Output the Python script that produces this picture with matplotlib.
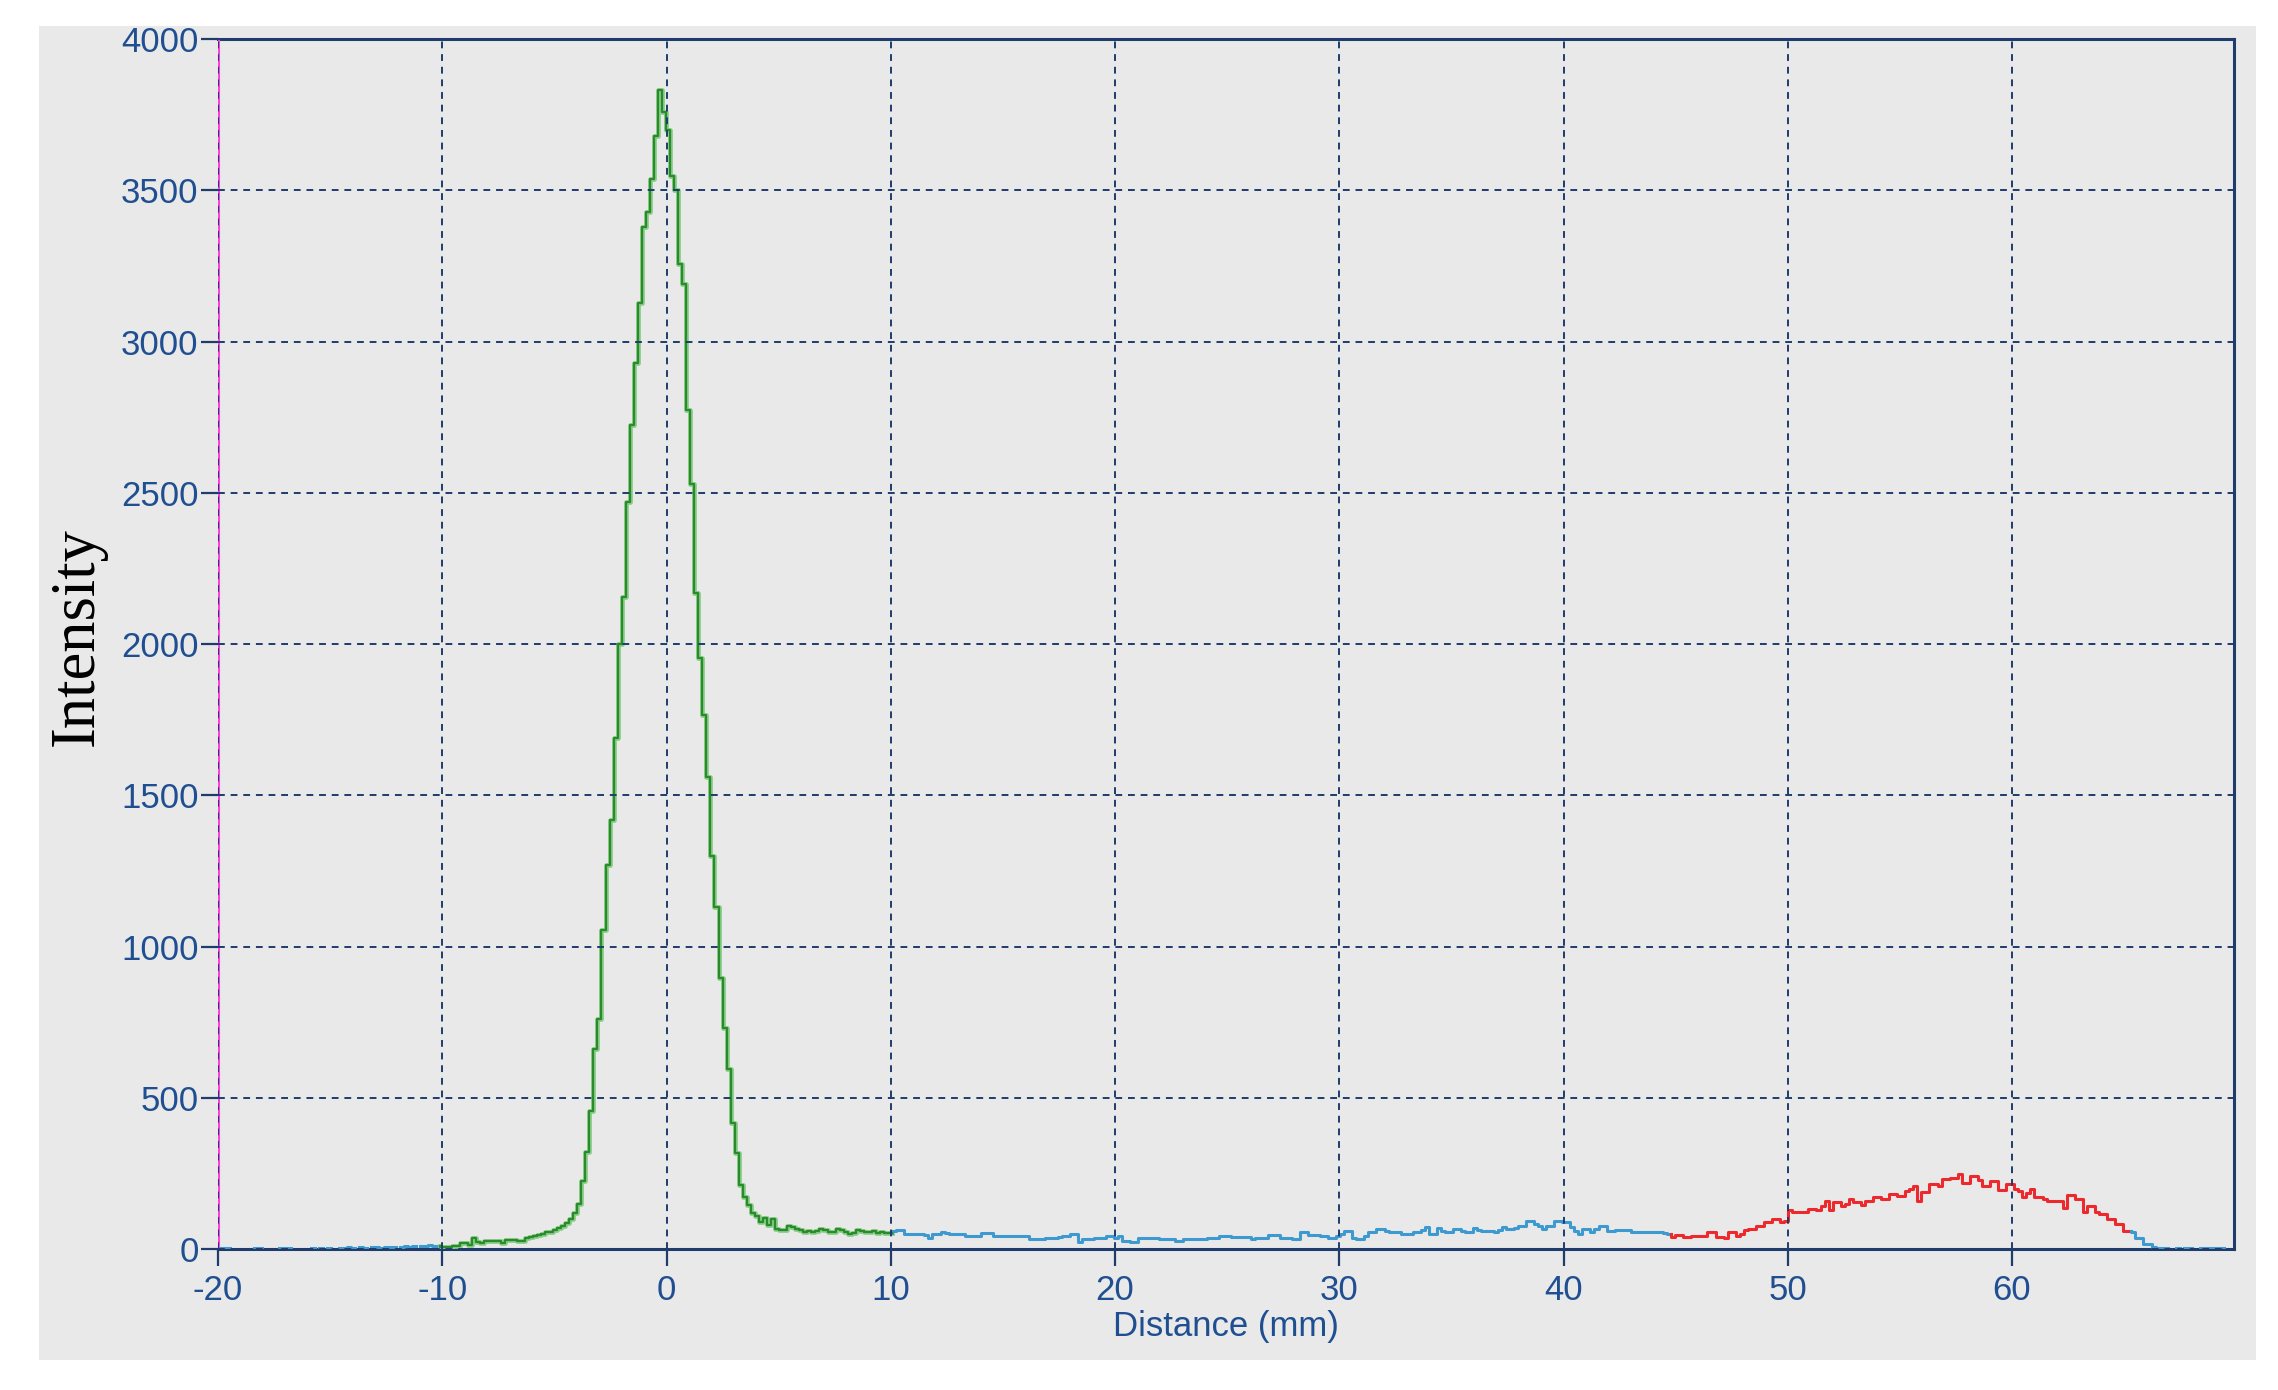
import numpy as np
import matplotlib
matplotlib.use('Agg')
import matplotlib.pyplot as plt
from matplotlib.patches import Rectangle

nan = np.nan

# histogram bins: 0.18 mm wide, starting at -20 mm
x_start = -20.0
bin_width = 0.18

# counts per bin, split by the colour of the region they are drawn in
blue_left = [4, 4, 3, nan, nan, nan, nan, nan, nan, 4,
             4, nan, nan, nan, nan, 4, 3, 4, nan, nan,
             nan, nan, nan, 5, nan, 5, nan, 4, nan, nan,
             5, 5, 6, 5, nan, 6, 5, nan, 6, 7,
             5, 6, 8, 6, nan, 7, 9, 8, 10, nan,
             9, 10, 12, 11, 9]

green_roi = [7, 8, 8, 9, 10, 20, 21, 12, 35, 22,
             21, 25, 28, 26, 27, 21, 29, 31, 30, 27,
             28, 38, 40, 42, 46, 50, 56, 58, 64, 70,
             75, 86, 100, 118, 150, 226, 320, 455, 660, 761,
             1056, 1268, 1418, 1689, 2000, 2154, 2471, 2723, 2930, 3129,
             3378, 3428, 3539, 3680, 3830, 3760, 3700, 3546, 3500, 3258,
             3189, 2773, 2530, 2170, 1954, 1765, 1562, 1301, 1131, 895,
             732, 595, 416, 317, 212, 172, 145, 119, 109, 89,
             104, 79, 99, 66, 63, 62, 75, 72, 66, 64,
             58, 60, 57, 60, 66, 62, 56, 58, 66, 64,
             55, 50, 52, 64, 60, 57, 55, 59, 53, 55,
             52, 54]

blue_mid = [60, 62, 62, 50, 50, 50, 50, 50, 45, 38,
            50, 50, 55, 52, 50, 50, 50, 50, 44, 44,
            44, 44, 53, 53, 53, 44, 44, 44, 44, 44,
            44, 44, 44, 44, 33, 33, 33, 33, 38, 38,
            38, 40, 44, 44, 50, 50, 22, 33, 33, 33,
            38, 38, 38, 44, 44, 38, 44, 27, 27, 22,
            22, 38, 38, 38, 38, 38, 33, 33, 33, 33,
            27, 27, 33, 33, 33, 33, 33, 33, 38, 38,
            38, 44, 44, 44, 41, 41, 41, 41, 41, 33,
            38, 38, 38, 46, 46, 46, 38, 38, 38, 33,
            33, 57, 57, 46, 46, 46, 44, 44, 38, 38,
            44, 50, 60, 60, 38, 33, 33, 44, 55, 55,
            66, 66, 60, 55, 55, 55, 50, 50, 50, 57,
            57, 64, 72, 50, 50, 68, 60, 55, 55, 66,
            66, 60, 55, 55, 68, 64, 60, 60, 60, 57,
            64, 72, 66, 66, 70, 77, 77, 94, 94, 83,
            75, 66, 77, 77, 94, 94, 88, 88, 72, 60,
            50, 66, 66, 55, 66, 77, 77, 60, 60, 62,
            62, 62, 62, 58, 55, 55, 55, 58, 58, 58,
            55, 52, 50]

red_roi = [41, 45, 47, 41, 41, 44, 44, 44, 44, 55,
           55, 41, 41, 36, 55, 55, 44, 50, 63, 66,
           66, 77, 77, 88, 88, 99, 99, 88, 92, 128,
           124, 124, 121, 121, 132, 132, 128, 143, 159, 130,
           154, 154, 143, 150, 165, 154, 154, 146, 159, 159,
           171, 171, 165, 165, 181, 181, 177, 177, 193, 200,
           209, 159, 187, 187, 214, 214, 209, 231, 231, 236,
           236, 248, 217, 217, 242, 242, 227, 209, 209, 226,
           226, 195, 195, 214, 214, 198, 193, 171, 185, 198,
           171, 171, 165, 159, 159, 159, 159, 135, 180, 180,
           165, 165, 121, 143, 143, 121, 115, 115, 99, 99,
           82, 82, 60, 60]

blue_right = [55, 38, 38, 17, 17, 6, 5, 4, 4, nan,
              nan, 3, nan, 3, 3, nan, nan, 3, 3, 3,
              3, 3, 3, nan, nan, nan]

x_ticks = [-20, -10, 0, 10, 20, 30, 40, 50, 60]
x_tick_labels = ['-20', '-10', '0', '10', '20', '30', '40', '50', '60']
y_ticks = [0, 500, 1000, 1500, 2000, 2500, 3000, 3500, 4000]
y_tick_labels = ['0', '500', '1000', '1500', '2000', '2500', '3000', '3500', '4000']

assert len(blue_left) + len(green_roi) + len(blue_mid) + len(red_roi) + len(blue_right) == 500

plt.rcParams['font.family'] = ['Liberation Sans', 'DejaVu Sans']

navy = '#1f3c6c'
label_blue = '#1f4f90'
bg = '#e9e9e9'

fig = plt.figure(figsize=(22.78, 13.9), dpi=100, facecolor='white')
fig.patches.append(Rectangle((0.0172, 0.0216), 0.9732, 0.9597, transform=fig.transFigure,
                             facecolor=bg, edgecolor='none', zorder=-10))
ax = fig.add_axes([0.0957, 0.1014, 0.885, 0.8705])
ax.set_facecolor(bg)

# draw the step line segment by segment
segments = [(blue_left, 'blue'), (green_roi, 'green'), (blue_mid, 'blue'),
            (red_roi, 'red'), (blue_right, 'blue')]
i0 = 0
prev = None
for vals, kind in segments:
    vals = np.array(vals, dtype=float)
    n = len(vals)
    edges = x_start + bin_width * np.arange(i0, i0 + n + 1)
    xs = edges
    ys = np.append(vals, vals[-1])
    if prev is not None and not np.isnan(prev):
        xs = np.insert(xs, 0, edges[0])
        ys = np.insert(ys, 0, prev)
    if kind == 'green':
        ax.plot(xs, ys, drawstyle='steps-post', color='#86cd86', lw=3.4, zorder=2.3)
        ax.plot(xs, ys, drawstyle='steps-post', color='#2b8a2b', lw=1.6, zorder=2.35)
    elif kind == 'red':
        ax.plot(xs, ys, drawstyle='steps-post', color='#ec2a2e', lw=2.2, zorder=2.3)
    else:
        ax.plot(xs, ys, drawstyle='steps-post', color='#3c9ad0', lw=2.2, zorder=2.3)
    prev = vals[-1]
    i0 += n

# magenta marker at the left edge
ax.axvline(-20, color='#ff3fdf', lw=2.2, zorder=2.4)

ax.set_xlim(-20, 69.9)
ax.set_ylim(0, 4000)
ax.set_xticks(x_ticks)
ax.set_xticklabels(x_tick_labels)
ax.set_yticks(y_ticks)
ax.set_yticklabels(y_tick_labels)

ax.set_axisbelow(False)
ax.grid(True, color=navy, linestyle=(0, (3.5, 3)), linewidth=1.4)

for side in ['top', 'right', 'bottom']:
    ax.spines[side].set_color(navy)
    ax.spines[side].set_linewidth(2.2)
    ax.spines[side].set_zorder(2.2)
ax.spines['left'].set_visible(False)

ax.tick_params(axis='both', direction='out', length=12, width=1.6, color=navy,
               labelcolor=label_blue, labelsize=25)
ax.tick_params(axis='x', pad=6)
ax.tick_params(axis='y', pad=2)

ax.set_xlabel('Distance (mm)', fontsize=25, color=label_blue)
ax.xaxis.label.set_va('center')
ax.xaxis.set_label_coords(0.5, -0.0636)

ax.set_ylabel('Intensity', fontsize=45, family=['Liberation Serif', 'DejaVu Serif'], color='black')
ax.yaxis.label.set_va('center')
ax.yaxis.set_label_coords(-0.0694, 0.5066)

fig.savefig('out.png', dpi=100, facecolor='white')
